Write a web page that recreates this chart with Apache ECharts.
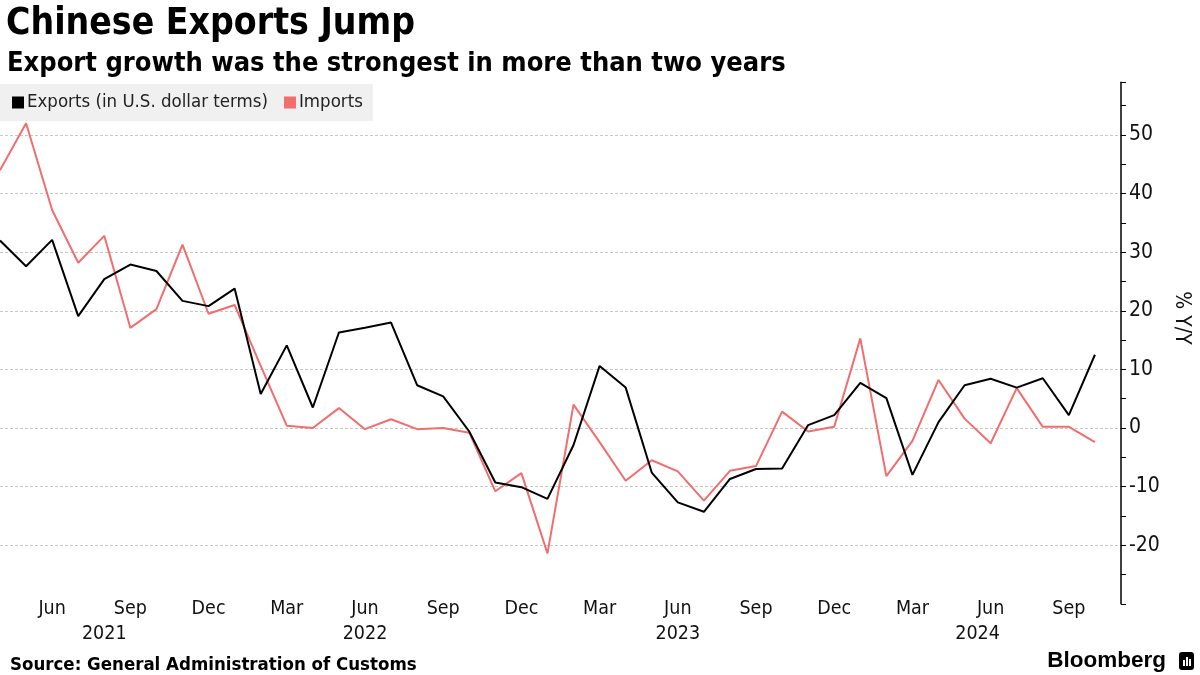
<!DOCTYPE html>
<html>
<head>
<meta charset="utf-8">
<script src="https://cdn.jsdelivr.net/npm/echarts@6/dist/echarts.min.js"></script>
<style>
html,body{margin:0;padding:0;background:#fff;}
#chart{width:1200px;height:675px;}
</style>
</head>
<body>
<div id="chart"></div>
<script>
// Monthly categories, Apr 2021 .. Nov 2024 (last slot is empty space before the axis)
const categories = [
  '2021-04','2021-05','2021-06','2021-07','2021-08','2021-09','2021-10','2021-11','2021-12',
  '2022-01','2022-02','2022-03','2022-04','2022-05','2022-06','2022-07','2022-08','2022-09','2022-10','2022-11','2022-12',
  '2023-01','2023-02','2023-03','2023-04','2023-05','2023-06','2023-07','2023-08','2023-09','2023-10','2023-11','2023-12',
  '2024-01','2024-02','2024-03','2024-04','2024-05','2024-06','2024-07','2024-08','2024-09','2024-10','2024-11'
];
// Exports % y/y (in U.S. dollar terms)
const exportsYoY = [
  32.0, 27.6, 32.1, 19.1, 25.4, 27.9, 26.8, 21.7, 20.8,
  23.8, 5.8, 14.1, 3.5, 16.3, 17.1, 18.0, 7.3, 5.4, -0.6, -9.3, -10.1,
  -12.1, -2.9, 10.6, 6.9, -7.6, -12.7, -14.3, -8.7, -7.0, -6.9, 0.5, 2.2,
  7.7, 5.1, -8.0, 1.0, 7.3, 8.4, 6.9, 8.5, 2.2, 12.5
];
// Imports % y/y
const importsYoY = [
  44.0, 52.0, 37.2, 28.2, 32.8, 17.1, 20.3, 31.3, 19.5,
  21.0, 10.6, 0.4, 0.0, 3.4, -0.2, 1.5, -0.2, 0.0, -0.8, -10.8, -7.7,
  -21.4, 4.0, -2.4, -9.0, -5.5, -7.4, -12.4, -7.3, -6.5, 2.8, -0.6, 0.2,
  15.3, -8.2, -2.2, 8.2, 1.6, -2.6, 6.8, 0.2, 0.2, -2.4
];
const monthNames = ['Jan','Feb','Mar','Apr','May','Jun','Jul','Aug','Sep','Oct','Nov','Dec'];
const tickMonths = ['Mar','Jun','Sep','Dec'];
// Year labels: [category where the label is centred, text]
const yearLabels = [['2021-08','2021'],['2022-06','2022'],['2023-06','2023'],['2024-05','2024']];
const yTickLabels = [-20, -10, 0, 10, 20, 30, 40, 50];

const COND = "'DejaVu Sans Condensed', 'DejaVu Sans', sans-serif";

function monthOf(c){ return monthNames[parseInt(c.slice(5),10)-1]; }
const yearMap = {};
yearLabels.forEach(function(p){ yearMap[p[0]] = p[1]; });

const chart = echarts.init(document.getElementById('chart'), null, {renderer:'canvas'});
const option = {
  backgroundColor: '#ffffff',
  animation: false,
  title: [
    { text: 'Chinese Exports Jump', left: 1, top: 1,
      textStyle: { fontFamily: COND, fontWeight: 'bold', fontSize: 37, color: '#000' } },
    { text: 'Export growth was the strongest in more than two years', left: 2, top: 45,
      textStyle: { fontFamily: COND, fontWeight: 'bold', fontSize: 27, color: '#000' } },
    { text: 'Source: General Administration of Customs', left: 5, top: 651,
      textStyle: { fontFamily: COND, fontWeight: 'bold', fontSize: 18.5, color: '#000' } }
  ],
  legend: {
    left: 0, top: 84,
    padding: [9, 10, 9, 12],
    backgroundColor: '#f0f0f0',
    itemWidth: 12, itemHeight: 12, itemGap: 16,
    icon: 'rect',
    textStyle: { fontFamily: COND, fontSize: 18.5, color: '#222', padding: [0,0,0,-2] },
    data: ['Exports (in U.S. dollar terms)', 'Imports']
  },
  grid: { left: 0, right: 79, top: 82.3, bottom: 71.2, containLabel: false, outerBoundsMode: 'none' },
  xAxis: [
    {
      type: 'category', data: categories, boundaryGap: false, position: 'bottom',
      axisLine: { show: false }, axisTick: { show: false }, splitLine: { show: false },
      axisLabel: {
        margin: -5, fontFamily: COND, fontSize: 19.5, color: '#111',
        interval: function(i, v){ return tickMonths.indexOf(monthOf(v)) >= 0; },
        formatter: function(v){ return monthOf(v); }
      }
    },
    {
      type: 'category', data: categories, boundaryGap: false, position: 'bottom', offset: 25,
      axisLine: { show: false }, axisTick: { show: false }, splitLine: { show: false },
      axisLabel: {
        margin: -5, fontFamily: COND, fontSize: 19.5, color: '#111',
        interval: function(i, v){ return yearMap[v] !== undefined; },
        formatter: function(v){ return v === '2024-05' ? '{s|' + yearMap[v] + '}' : yearMap[v]; },
        rich: { s: { fontFamily: COND, fontSize: 19.5, color: '#111', padding: [0,0,0,26] } }
      }
    }
  ],
  yAxis: {
    type: 'value', position: 'right', min: -30, max: 59, interval: 10,
    name: '% Y/Y', nameLocation: 'middle', nameRotate: -90, nameGap: 48,
    nameTextStyle: { fontFamily: COND, fontSize: 21, color: '#111', padding: [0,50,0,0] },
    axisLine: { show: true, lineStyle: { color: '#000', width: 1.5 } },
    axisTick: { show: true, length: 5, lineStyle: { color: '#000' } },
    minorTick: { show: true, splitNumber: 2, length: 5, lineStyle: { color: '#000' } },
    splitLine: { show: true, showMinLine: false, showMaxLine: false,
      lineStyle: { color: '#c8c8c8', type: [3, 2], width: 1 } },
    axisLabel: {
      margin: 8, fontFamily: COND, fontSize: 21, color: '#111',
      formatter: function(v){ return yTickLabels.indexOf(v) >= 0 ? String(v) : ''; }
    }
  },
  series: [
    { name: 'Exports (in U.S. dollar terms)', type: 'line', data: exportsYoY,
      showSymbol: false, symbol: 'none', color: '#000000', z: 3,
      lineStyle: { color: '#000000', width: 2 } },
    { name: 'Imports', type: 'line', data: importsYoY,
      showSymbol: false, symbol: 'none', color: '#f26d6d', z: 2,
      lineStyle: { color: '#f26d6d', width: 2 } }
  ],
  graphic: [
    { type: 'text', right: 34, top: 649,
      style: { text: 'Bloomberg', fontFamily: "'Liberation Sans', Arial, sans-serif", fontWeight: 'bold', fontSize: 22.5, fill: '#000' } },
    { type: 'group', right: 6, top: 652, children: [
      { type: 'rect', shape: { x: 0, y: 0, width: 15, height: 18, r: 3 }, style: { fill: '#000' } },
      { type: 'rect', shape: { x: 4, y: 8, width: 2, height: 6 }, style: { fill: '#fff' } },
      { type: 'rect', shape: { x: 7, y: 5, width: 2, height: 9 }, style: { fill: '#fff' } },
      { type: 'rect', shape: { x: 10, y: 7, width: 2, height: 7 }, style: { fill: '#fff' } }
    ]}
  ]
};
chart.setOption(option);
</script>
</body>
</html>
